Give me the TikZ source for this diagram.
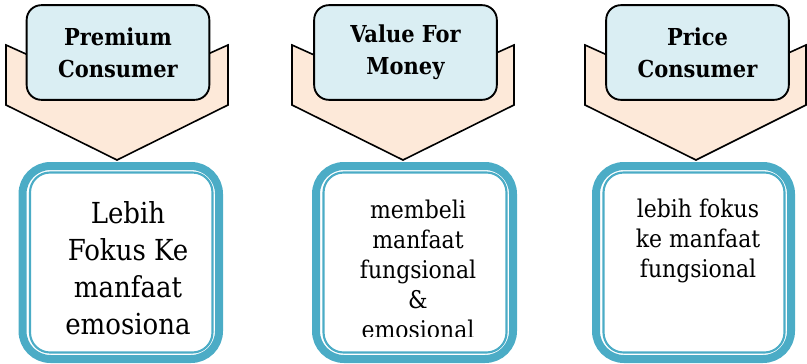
\documentclass[tikz,border=0pt]{standalone}
\usepackage{fontspec}
\setmainfont{DejaVu Serif Condensed}
\usetikzlibrary{positioning}

\definecolor{frameblue}{HTML}{4BACC6}
\definecolor{labelblue}{HTML}{DAEEF3}
\definecolor{peach}{HTML}{FDE9D9}

\begin{document}
\begin{tikzpicture}[x=0.75pt, y=-0.75pt,
    chevron/.style={draw, fill=peach, line width=1.2pt},
    label/.style={draw, fill=labelblue, rounded corners=11pt, line width=1.4pt,
      minimum width=137pt, minimum height=71pt, align=center,
      font=\bfseries\fontsize{17.5}{24}\selectfont},
    outer/.style={draw=frameblue, line width=6pt, rounded corners=21pt},
    inner/.style={draw=frameblue, line width=1.6pt, rounded corners=15pt},
    body/.style={anchor=north, inner sep=0pt, align=center}]

    \useasboundingbox (0,0) rectangle (807,364);

    % Chevrons
    \draw[chevron] (6,45) -- (117,95) -- (228,45) -- (228,105) -- (117,160) -- (6,105) -- cycle;
    \draw[chevron] (292,45) -- (403,95) -- (514,45) -- (514,105) -- (403,160) -- (292,105) -- cycle;
    \draw[chevron] (585,45) -- (696,95) -- (806,45) -- (806,105) -- (696,160) -- (585,105) -- cycle;

    % Labels
    \node[label] (prem) at (118,52.5) {Premium\\Consumer};
    \node[label] (value) at (405.5,52.5) {Value For\\Money};
    \node[label] (price) at (697.5,52.5) {Price\\Consumer};

    % Frames
    \draw[outer] (22.5,166) rectangle (219,359);
    \draw[inner] (30,172.5) rectangle (212.5,352.5);
    \draw[outer] (316,166) rectangle (513,359);
    \draw[inner] (323.5,172.5) rectangle (506.5,352.5);
    \draw[outer] (596,166) rectangle (791,359);
    \draw[inner] (603.5,172.5) rectangle (784.5,352.5);

    % Texts
    \node[body, font=\fontsize{21.7}{27.75}\selectfont] (premtext) at (128,201)
      {Lebih\\Fokus Ke\\manfaat\\emosiona};
    \begin{scope}
      \clip (316,166) rectangle (513,336);
      \node[body, font=\fontsize{18.3}{22.5}\selectfont] (valuetext) at (418,199.5)
        {membeli\\manfaat\\fungsional\\\&\\emosional};
    \end{scope}
    \node[body, font=\fontsize{18.3}{22.5}\selectfont] (pricetext) at (698,198.5)
      {lebih fokus\\ke manfaat\\fungsional};

\end{tikzpicture}
\end{document}
